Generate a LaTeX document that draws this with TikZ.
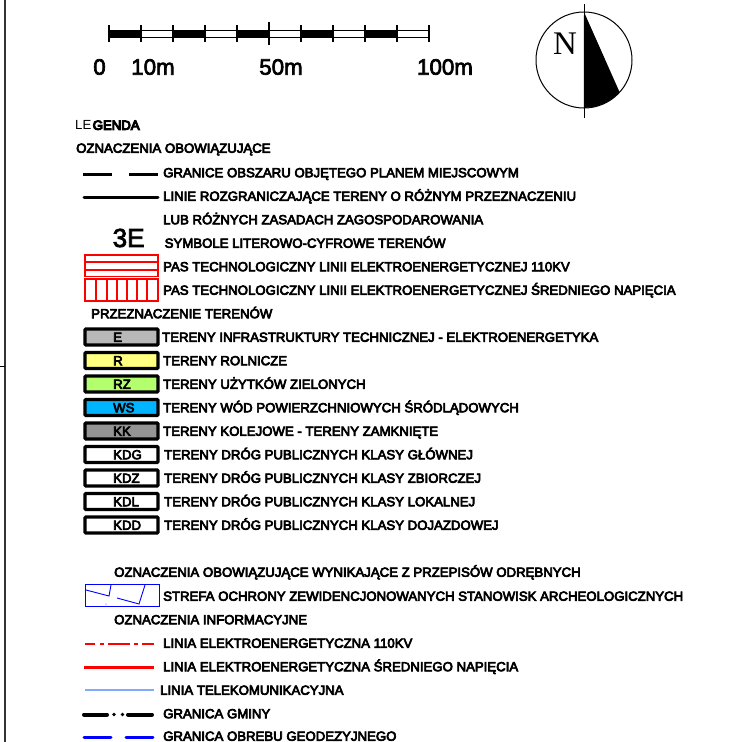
\documentclass[tikz,border=0pt]{standalone}
\usepackage{fontspec}
\setmainfont{Liberation Sans}
\newfontfamily\lblfont[FakeBold=5]{Liberation Sans}
\newfontfamily\boldfont[FakeBold=8]{Liberation Sans}
\newfontfamily\bigfont[FakeBold=3]{Liberation Sans}
\newfontfamily\serfont{Liberation Serif}
\tikzset{
 lbl/.style={anchor=west,inner sep=0pt,text height=9.5pt,text depth=0pt,font=\lblfont\fontsize{13.2}{15}\selectfont,text=black},
 scalelbl/.style={anchor=center,inner sep=0pt,font=\bigfont\fontsize{22.3}{24}\selectfont},
 swatch/.style={draw=black,line width=3.4pt,rounded corners=1pt},
 redgrid/.style={draw=red,line width=1.1pt},
 bartick/.style={draw=black,line width=1.2pt},
}
\begin{document}
\begin{tikzpicture}[x=1pt,y=-1pt]
\useasboundingbox (0,0) rectangle (732,742);
% frame
\draw[line width=1.3pt,draw=black!80] (5,0) -- (5,742);
\draw[line width=1pt] (0,366) -- (5,366);
% scale bar
\draw[line width=1pt] (109,30.5) rectangle (429,37.5);
\foreach \a in {109,173,237,301,365}{\fill (\a,30) rectangle (\a+32,38);}
\foreach \a in {109,141,173,205,237,301,333,365,397,429}{\draw[bartick] (\a,25) -- (\a,42);}
\draw[bartick] (269,22) -- (269,45);
\node[scalelbl] (s0) at (99.5,67) {0};
\node[scalelbl] (s10) at (153,67) {10m};
\node[scalelbl] (s50) at (281,67) {50m};
\node[scalelbl] (s100) at (445,67) {100m};
% north
\draw[line width=1pt] (584,60) circle[radius=48];
\fill (584,12) -- (619.5,92) arc[start angle=42,end angle=90,radius=48] -- cycle;
\draw[line width=1pt] (584,4) -- (584,118);
\node[inner sep=0pt,font=\serfont\fontsize{33}{36}\selectfont] (north) at (565,44) {N};
% legend titles
\node[lbl,font=\fontsize{13.2}{15}\selectfont] (leg1) at (75,125) {LE};
\node[lbl,font=\boldfont\fontsize{13.2}{15}\selectfont] (leg2) at (92.5,125) {GENDA};
\node[lbl] (t1) at (76,148) {OZNACZENIA OBOWIĄZUJĄCE};
\draw[line width=3pt] (83,174) -- (112,174) (129,174) -- (158,174);
\node[lbl] (a1) at (163,172.5) {GRANICE OBSZARU OBJĘTEGO PLANEM MIEJSCOWYM};
\draw[line width=3pt,line cap=round] (84,197) -- (158,197);
\node[lbl] (a2) at (163,196) {LINIE ROZGRANICZAJĄCE TERENY O RÓŻNYM PRZEZNACZENIU};
\node[lbl] (a3) at (163,219.5) {LUB RÓŻNYCH ZASADACH ZAGOSPODAROWANIA};
\node[anchor=west,inner sep=0pt,font=\bigfont\fontsize{26}{28}\selectfont] (sym) at (112.5,238) {3E};
\node[lbl] (a4) at (164.5,243) {SYMBOLE LITEROWO-CYFROWE TERENÓW};
% red hatch boxes
\draw[redgrid] (85,255) rectangle (158,276.5) (85,262) -- (158,262) (85,270) -- (158,270);
\node[lbl] (a5) at (163,266.5) {PAS TECHNOLOGICZNY LINII ELEKTROENERGETYCZNEJ 110KV};
\draw[redgrid] (85,279) rectangle (158,301);
\foreach \v in {96,107,117,127,137,147}{\draw[redgrid] (\v,279) -- (\v,301);}
\node[lbl] (a6) at (163,290) {PAS TECHNOLOGICZNY LINII ELEKTROENERGETYCZNEJ ŚREDNIEGO NAPIĘCIA};
\node[lbl] (t2) at (91,313.5) {PRZEZNACZENIE TERENÓW};
% swatches
\foreach \yy/\col/\code/\txt/\tx in {
 337/{black!28}/E/{TERENY INFRASTRUKTURY TECHNICZNEJ - ELEKTROENERGETYKA}/162,
 360.5/{rgb,255:red,255;green,255;blue,128}/R/{TERENY ROLNICZE}/163,
 384/{rgb,255:red,180;green,255;blue,110}/RZ/{TERENY UŻYTKÓW ZIELONYCH}/163,
 407.5/{rgb,255:red,0;green,180;blue,255}/WS/{TERENY WÓD POWIERZCHNIOWYCH ŚRÓDLĄDOWYCH}/163,
 431/{black!42}/KK/{TERENY KOLEJOWE - TERENY ZAMKNIĘTE}/163,
 454.5/white/KDG/{TERENY DRÓG PUBLICZNYCH KLASY GŁÓWNEJ}/164,
 478/white/KDZ/{TERENY DRÓG PUBLICZNYCH KLASY ZBIORCZEJ}/164,
 501.5/white/KDL/{TERENY DRÓG PUBLICZNYCH KLASY LOKALNEJ}/164,
 525/white/KDD/{TERENY DRÓG PUBLICZNYCH KLASY DOJAZDOWEJ}/164}{
 \draw[swatch,fill=\col] (85,\yy-8) rectangle (158,\yy+8);
 \node[lbl] (box\code) at (113,\yy) {\code};
 \node[lbl] (txt\code) at (\tx,\yy) {\txt};
}
% lower block
\node[lbl] (t3) at (114,572) {OZNACZENIA OBOWIĄZUJĄCE WYNIKAJĄCE Z PRZEPISÓW ODRĘBNYCH};
\draw[draw=blue,line width=0.9pt] (85,584.5) rectangle (159,606.5);
\draw[draw=blue,line width=0.9pt] (86,590) -- (109,596) -- (111,585) (117,598) -- (139,604) -- (145,585);
\fill[blue] (106,604) circle[radius=0.5];
\node[lbl] (b1) at (163,596) {STREFA OCHRONY ZEWIDENCJONOWANYCH STANOWISK ARCHEOLOGICZNYCH};
\node[lbl] (t4) at (114,619.5) {OZNACZENIA INFORMACYJNE};
\draw[draw=red,line width=1.3pt] (85,644) -- (95,644) (100,644) -- (104,644) (108,644) -- (130,644) (134,644) -- (138,644) (142,644) -- (154,644);
\node[lbl] (b2) at (163,643) {LINIA ELEKTROENERGETYCZNA 110KV};
\draw[draw=red,line width=3pt] (84,667) -- (154,667);
\node[lbl] (b3) at (163,666.5) {LINIA ELEKTROENERGETYCZNA ŚREDNIEGO NAPIĘCIA};
\draw[draw={rgb,255:red,130;green,170;blue,255},line width=1.8pt] (85,690) -- (154,690);
\node[lbl] (b4) at (160,690) {LINIA TELEKOMUNIKACYJNA};
\draw[line width=4pt,line cap=round] (84,714.5) -- (107,714.5) (128,714.5) -- (152,714.5);
\fill (114,714.5) circle[radius=1.8] (122.5,714.5) circle[radius=1.8];
\node[lbl] (b5) at (163,713.5) {GRANICA GMINY};
\draw[draw=blue,line width=3pt,line cap=round] (84,737.5) -- (111,737.5) (126,737.5) -- (153,737.5);
\node[lbl] (b6) at (163,736) {GRANICA OBREBU GEODEZYJNEGO};
\end{tikzpicture}
\end{document}
